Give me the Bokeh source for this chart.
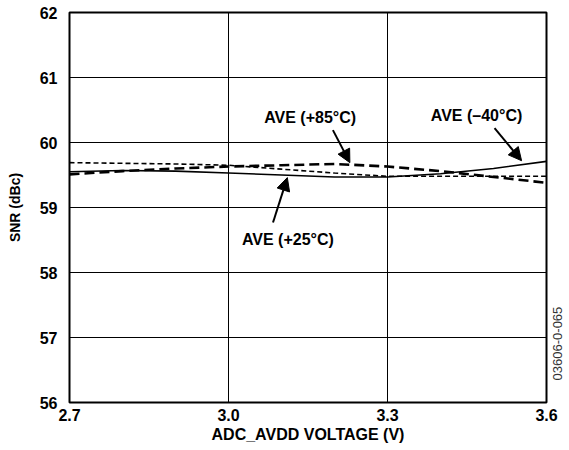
import math
from bokeh.plotting import figure
from bokeh.models import (FixedTicker, NumeralTickFormatter, Arrow, NormalHead,
                          ColumnDataSource, Range1d, LinearAxis)
from bokeh.core.properties import value
from bokeh.embed import file_html
from bokeh.resources import INLINE

# ---- data ----
voltage = [2.7, 2.8, 2.9, 3.0, 3.1, 3.2, 3.3, 3.4, 3.5, 3.6]
snr_solid = [59.55, 59.57, 59.56, 59.53, 59.50, 59.47, 59.47, 59.52, 59.60, 59.71]
snr_long_dash = [59.51, 59.56, 59.60, 59.63, 59.65, 59.67, 59.63, 59.56, 59.47, 59.38]
snr_short_dash = [59.69, 59.68, 59.67, 59.65, 59.59, 59.53, 59.48, 59.48, 59.48, 59.48]

x_ticks = [2.7, 3.0, 3.3, 3.6]
y_ticks = [56, 57, 58, 59, 60, 61, 62]

ann_text = ["AVE (+85°C)", "AVE (–40°C)", "AVE (+25°C)"]
ann_x = [3.154, 3.468, 3.112]
ann_y = [60.39, 60.42, 58.51]
arrow_x0 = [3.197, 3.502, 3.084]
arrow_y0 = [60.19, 60.22, 58.77]
arrow_x1 = [3.229, 3.553, 3.111]
arrow_y1 = [59.69, 59.72, 59.46]

figure_id = "03606-0-065"
figure_id_pos = 56.34

FONT = "Liberation Sans"

p = figure(width=569, height=450, output_backend="svg", toolbar_location=None,
           x_range=Range1d(2.7, 3.6), y_range=Range1d(56, 62))
p.min_border_left = 69
p.min_border_right = 22
p.min_border_top = 12
p.min_border_bottom = 48
p.background_fill_color = "white"
p.border_fill_color = "white"
p.outline_line_color = "black"
p.outline_line_width = 2

p.xaxis.ticker = FixedTicker(ticks=x_ticks)
p.yaxis.ticker = FixedTicker(ticks=y_ticks)
p.xaxis.formatter = NumeralTickFormatter(format="0.0")
for ax in (p.xaxis, p.yaxis):
    ax.axis_line_color = None
    ax.major_tick_line_color = None
    ax.minor_tick_line_color = None
    ax.major_label_text_font = FONT
    ax.major_label_text_font_style = "bold"
    ax.major_label_text_font_size = "16px"
    ax.major_label_text_color = "black"
    ax.axis_label_text_font = FONT
    ax.axis_label_text_font_style = "bold"
    ax.axis_label_text_color = "black"
p.xaxis.axis_label = "ADC_AVDD VOLTAGE (V)"
p.yaxis.axis_label = "SNR (dBc)"
p.xaxis.axis_label_text_font_size = "16px"
p.yaxis.axis_label_text_font_size = "14px"
p.xaxis.major_label_standoff = 0
p.yaxis.major_label_standoff = 6
p.xaxis.axis_label_standoff = 2
p.yaxis.axis_label_standoff = 14

p.xgrid.grid_line_color = "black"
p.ygrid.grid_line_color = "black"
p.xgrid.grid_line_width = 1
p.ygrid.grid_line_width = 1
p.xgrid.grid_line_alpha = 1
p.ygrid.grid_line_alpha = 1

# right-hand axis used only to carry the vertical figure id text
id_axis = LinearAxis(ticker=FixedTicker(ticks=[figure_id_pos]),
                     major_label_overrides={figure_id_pos: figure_id},
                     major_label_orientation=math.pi / 2,
                     axis_line_color=None, major_tick_line_color=None,
                     minor_tick_line_color=None, major_label_standoff=5,
                     major_label_text_font=FONT, major_label_text_font_size="13px",
                     major_label_text_font_style="normal",
                     major_label_text_color="#333333")
p.add_layout(id_axis, "right")

p.line(voltage, snr_short_dash, line_color="black", line_width=1.6, line_dash="5 3")
p.line(voltage, snr_long_dash, line_color="black", line_width=2.6, line_dash="10 5")
p.line(voltage, snr_solid, line_color="black", line_width=1.6)

src = ColumnDataSource(dict(x=ann_x, y=ann_y, t=ann_text))
p.text(x="x", y="y", text="t", source=src, text_font=value(FONT),
       text_font_style="bold", text_font_size="16px", text_align="center",
       text_baseline="middle", text_color="black")

for xs, ys, xe, ye in zip(arrow_x0, arrow_y0, arrow_x1, arrow_y1):
    p.add_layout(Arrow(end=NormalHead(size=13, fill_color="black", line_color="black"),
                       x_start=xs, y_start=ys, x_end=xe, y_end=ye,
                       line_color="black", line_width=2))

open("out.html", "w").write(file_html(p, INLINE))
